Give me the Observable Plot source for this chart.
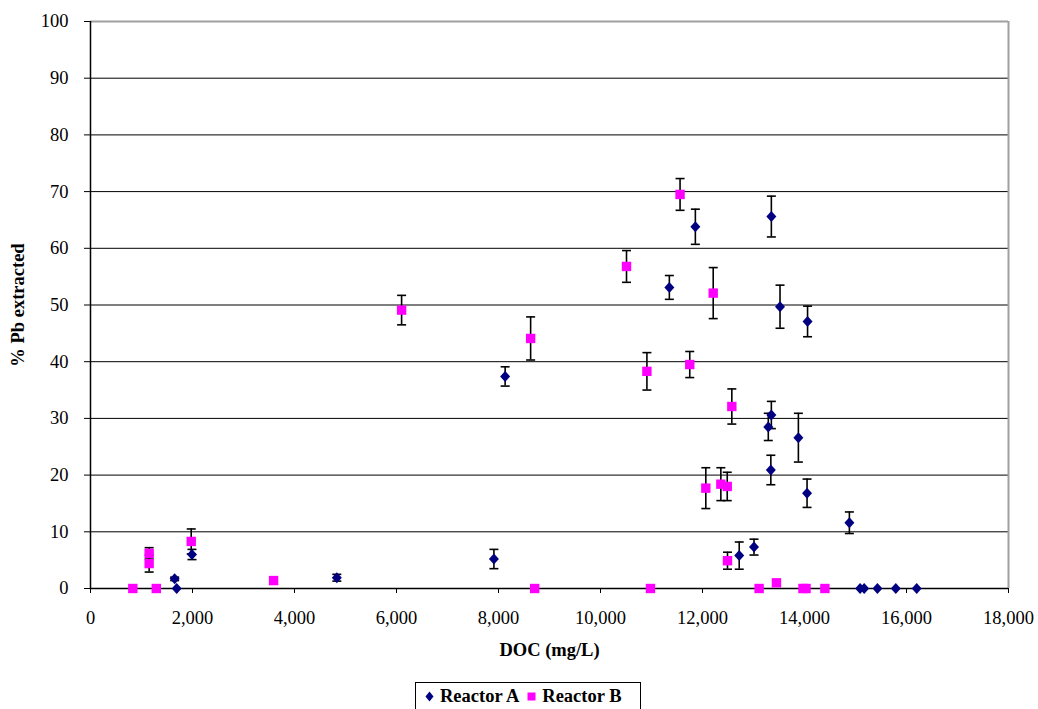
<!DOCTYPE html>
<html>
<head>
<meta charset="utf-8">
<script src="https://cdn.jsdelivr.net/npm/d3@7"></script>
<script src="https://cdn.jsdelivr.net/npm/@observablehq/plot@0.6"></script>
<style>
  html, body { margin: 0; padding: 0; background: #fff; }
  #wrap { position: relative; width: 1038px; height: 709px; overflow: hidden; font-family: "Liberation Serif", "Times New Roman", serif; }
  #legend { position: absolute; left: 415px; top: 682px; width: 226px; height: 34px; border: 1px solid #000; box-sizing: border-box;
            font-weight: bold; font-size: 18.5px; display: flex; align-items: flex-start; padding-top: 3px; padding-left: 9px; white-space: nowrap; }
  #legend span.item { display: inline-flex; align-items: center; margin-right: 8px; }
  #legend svg { margin-right: 6px; }
</style>
</head>
<body>
<div id="wrap">
  <div id="chart"></div>
  <div id="legend"></div>
</div>
<script>
// Reactor A (DOC mg/L, % Pb extracted, error)
const aDoc = [1650, 1690, 1990, 4830, 7910, 8130, 11350, 11860, 13350, 13520, 14060, 13290, 13350, 13880, 13340, 14050, 14880, 12720, 13010, 15090, 15170, 15430, 15790, 16200];
const aPb  = [1.7, 0, 6.0, 1.9, 5.2, 37.4, 53.1, 63.8, 65.6, 49.7, 47.1, 28.5, 30.6, 26.6, 20.9, 16.8, 11.6, 5.8, 7.3, 0, 0, 0, 0, 0];
const aErr = [0.3, 0, 0.9, 0.6, 1.7, 1.7, 2.1, 3.1, 3.6, 3.8, 2.7, 2.4, 2.4, 4.3, 2.6, 2.5, 1.9, 2.4, 1.4, 0, 0, 0, 0, 0];
// Reactor B
const bDoc = [830, 1290, 1150, 1150, 1975, 3590, 6100, 8630, 10510, 11560, 12210, 10910, 11750, 12575, 12065, 12360, 12485, 12490, 8710, 10980, 13110, 13450, 13970, 14030, 14400];
const bPb  = [0, 0, 6.2, 4.4, 8.3, 1.4, 49.1, 44.1, 56.8, 69.5, 52.1, 38.3, 39.5, 32.1, 17.7, 18.4, 18.0, 4.9, 0, 0, 0, 1.0, 0, 0, 0];
const bErr = [0, 0, 1.0, 1.5, 2.2, 0, 2.6, 3.8, 2.8, 2.8, 4.5, 3.3, 2.3, 3.1, 3.6, 2.9, 2.5, 1.5, 0, 0, 0, 0, 0, 0, 0];

const seriesNames = ["Reactor A", "Reactor B"];
const xTicks = d3.range(0, 18001, 2000);
const yTicks = d3.range(0, 101, 10);

const A = aDoc.map((x, i) => ({x, y: aPb[i], e: aErr[i]}));
const B = bDoc.map((x, i) => ({x, y: bPb[i], e: bErr[i]}));
const errs = [...A, ...B].filter(d => d.e > 0);

const capSym = { draw(ctx) { ctx.moveTo(-4.5, 0); ctx.lineTo(4.5, 0); } };
const diamondSym = { draw(ctx) { ctx.moveTo(0, -5.5); ctx.lineTo(5, 0); ctx.lineTo(0, 5.5); ctx.lineTo(-5, 0); ctx.closePath(); } };
const squareSym = { draw(ctx) { ctx.rect(-4.7, -4.7, 9.4, 9.4); } };

const chart = Plot.plot({
  width: 1038,
  height: 676,
  marginLeft: 90,
  marginRight: 30,
  marginTop: 21,
  marginBottom: 88,
  style: { fontFamily: "'Liberation Serif', 'Times New Roman', serif", fontSize: "18.5px", color: "#000", background: "#fff" },
  x: { domain: [0, 18000] },
  y: { domain: [0, 100] },
  marks: [
    Plot.gridY(yTicks.filter(t => t > 0 && t < 100), { stroke: "#000", strokeOpacity: 1, strokeWidth: 1 }),
    Plot.ruleY([100], { stroke: "#a0a0a0", strokeWidth: 2 }),
    Plot.ruleX([18000], { stroke: "#a0a0a0", strokeWidth: 2 }),
    Plot.axisX({ ticks: xTicks, tickFormat: d3.format(","), tickSize: 5, tickPadding: 17, label: null, fontSize: 18.5 }),
    Plot.axisY({ ticks: yTicks, tickFormat: d => d, tickSize: 6, tickPadding: 16, label: null, fontSize: 18.5 }),
    Plot.ruleX([0], { stroke: "#000", strokeWidth: 1.5 }),
    Plot.ruleY([0], { stroke: "#000", strokeWidth: 1.5 }),
    Plot.ruleX(errs, { x: "x", y1: d => d.y - d.e, y2: d => d.y + d.e, stroke: "#000", strokeWidth: 1.6 }),
    Plot.dot(errs, { x: "x", y: d => d.y + d.e, symbol: capSym, r: 4, stroke: "#000", strokeWidth: 1.6, fill: "none" }),
    Plot.dot(errs, { x: "x", y: d => d.y - d.e, symbol: capSym, r: 4, stroke: "#000", strokeWidth: 1.6, fill: "none" }),
    Plot.dot(A, { x: "x", y: "y", symbol: diamondSym, r: 5, fill: "#000080", stroke: "none" }),
    Plot.dot(B, { x: "x", y: "y", symbol: squareSym, r: 5, fill: "#FF00FF", stroke: "none" }),
    Plot.text(["DOC (mg/L)"], { frameAnchor: "bottom", dy: 62, fontWeight: "bold", fontSize: 18.5, textAnchor: "middle", lineAnchor: "middle" }),
    Plot.text(["% Pb extracted"], { frameAnchor: "left", dx: -72, rotate: -90, fontWeight: "bold", fontSize: 18.5, textAnchor: "middle", lineAnchor: "middle" })
  ]
});
document.getElementById("chart").appendChild(chart);

const legend = document.getElementById("legend");
legend.innerHTML =
  `<span class="item"><svg width="9" height="11"><path d="M4.5 0.5 L8.5 5.5 L4.5 10.5 L0.5 5.5 Z" fill="#000080"/></svg>${seriesNames[0]}</span>` +
  `<span class="item"><svg width="9" height="9"><rect x="0.5" y="0.5" width="8" height="8" fill="#FF00FF"/></svg>${seriesNames[1]}</span>`;
</script>
</body>
</html>
